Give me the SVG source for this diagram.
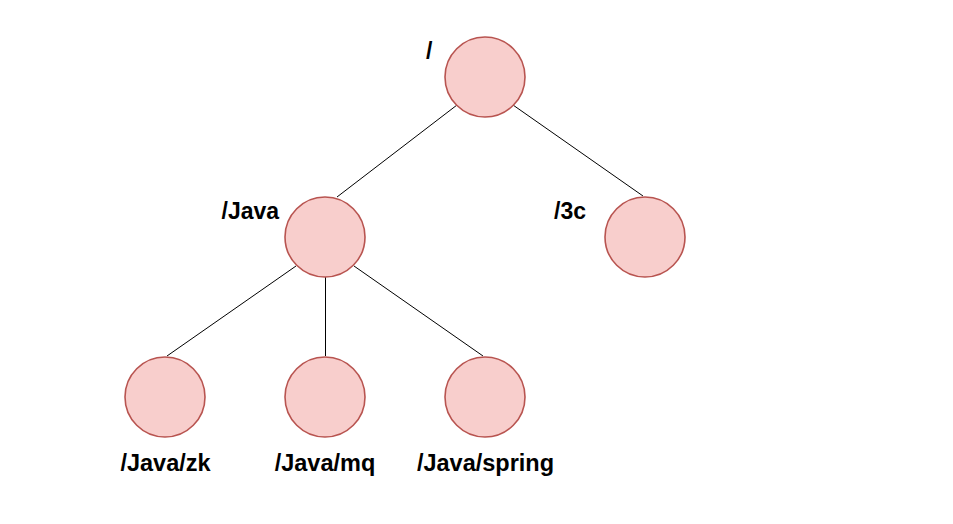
<svg xmlns="http://www.w3.org/2000/svg" width="953" height="524" viewBox="0 0 953 524">
<style>
.n{fill:#f8cecc;stroke:#b85450;stroke-width:1.6}
.e{stroke:#000;stroke-width:1;fill:none}
.t{font-family:"Liberation Sans",Arial,sans-serif;font-weight:bold;font-size:23px;fill:#000}
.b{font-size:23.5px}
</style>
<rect width="953" height="524" fill="#fff"/>
<g id="connectors">
<line class="e" x1="457" y1="105" x2="337" y2="197"/>
<line class="e" x1="513" y1="105" x2="643" y2="196"/>
<line class="e" x1="296" y1="266" x2="167" y2="356"/>
<line class="e" x1="325.5" y1="277" x2="325.5" y2="356"/>
<line class="e" x1="354" y1="266" x2="483" y2="356"/>
</g>
<g id="root"><circle class="n" cx="485" cy="77" r="40"/><text class="t" x="426" y="59">/</text></g>
<g id="java"><circle class="n" cx="325" cy="237" r="40"/><text class="t" x="221.5" y="218.5">/Java</text></g>
<g id="c3"><circle class="n" cx="645" cy="237" r="40"/><text class="t" x="554" y="218.5">/3c</text></g>
<g id="zk"><circle class="n" cx="165" cy="397" r="40"/><text class="t b" x="165.5" y="470.5" text-anchor="middle">/Java/zk</text></g>
<g id="mq"><circle class="n" cx="325" cy="397" r="40"/><text class="t b" x="325" y="470.5" text-anchor="middle">/Java/mq</text></g>
<g id="spring"><circle class="n" cx="485" cy="397" r="40"/><text class="t b" x="485.5" y="470.5" text-anchor="middle">/Java/spring</text></g>
</svg>
